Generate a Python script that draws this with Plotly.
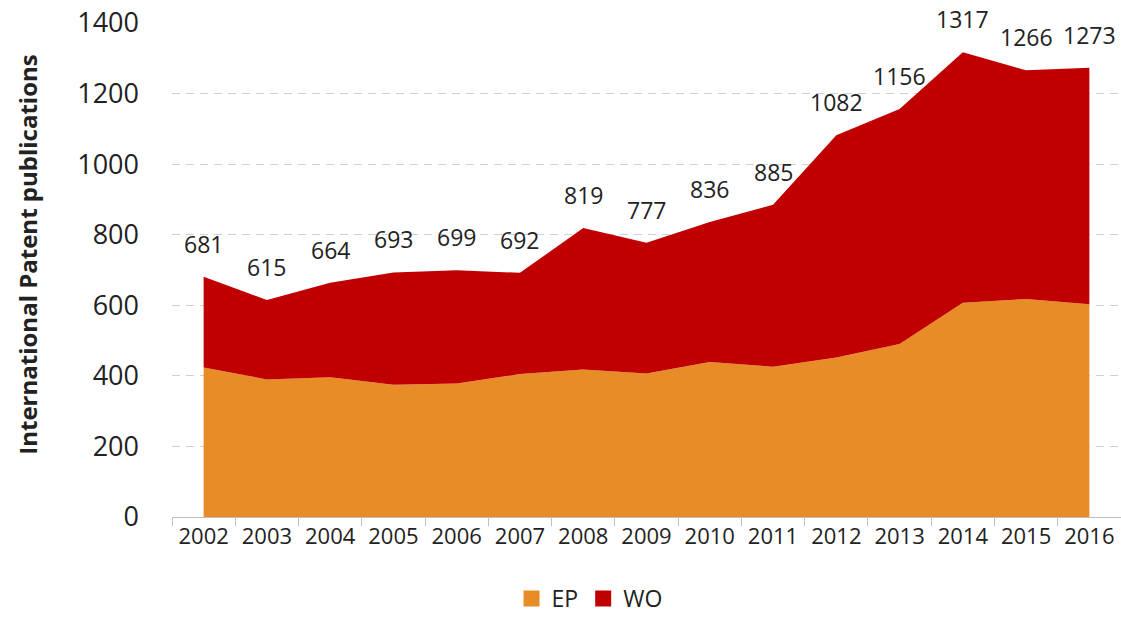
import plotly.graph_objects as go

years = ["2002","2003","2004","2005","2006","2007","2008","2009","2010","2011","2012","2013","2014","2015","2016"]
total = [681, 615, 664, 693, 699, 692, 819, 777, 836, 885, 1082, 1156, 1317, 1266, 1273]
ep = [424, 390, 396, 375, 378, 405, 418, 407, 439, 426, 452, 490, 607, 618, 603]
wo = [t - e for t, e in zip(total, ep)]

FONT = "Open Sans, sans-serif"
EP_COLOR = "#E88C27"
WO_COLOR = "#C00000"

fig = go.Figure()
fig.add_trace(go.Scatter(x=years, y=ep, name="EP", stackgroup="one", mode="none",
                         fillcolor=EP_COLOR, line=dict(width=0), showlegend=False))
fig.add_trace(go.Scatter(x=years, y=wo, name="WO", stackgroup="one", mode="none",
                         fillcolor=WO_COLOR, line=dict(width=0), showlegend=False))
# legend entries (square swatches)
fig.add_trace(go.Scatter(x=[None], y=[None], name="EP", mode="markers",
                         marker=dict(symbol="square", size=17, color=EP_COLOR)))
fig.add_trace(go.Scatter(x=[None], y=[None], name="WO", mode="markers",
                         marker=dict(symbol="square", size=17, color=WO_COLOR)))

for i, t in enumerate(total):
    fig.add_annotation(x=i, y=t, xref="x", yref="y", text=str(t), showarrow=False,
                       yshift=33, font=dict(size=23, color="#222", family=FONT))

fig.add_annotation(xref="paper", yref="paper", x=-0.1517, y=0.531, textangle=-90,
                   xanchor="center", yanchor="middle",
                   text="<b>International Patent publications</b>", showarrow=False,
                   font=dict(size=24, family=FONT, color="#222"))

fig.update_layout(
    width=1121, height=620,
    margin=dict(l=172, r=0, t=23, b=103),
    paper_bgcolor="white", plot_bgcolor="white",
    font=dict(family=FONT, color="#222"),
    showlegend=True,
    legend=dict(orientation="h", x=0.44, xanchor="center", y=-0.2085, yanchor="bottom",
                font=dict(size=23, family=FONT, color="#222"), itemwidth=30,
                traceorder="normal"),
    xaxis=dict(type="category", range=[-0.5, 14.5], tickson="boundaries",
               ticks="outside", ticklen=8, tickcolor="#bfbfbf", showline=True,
               linecolor="#bfbfbf", linewidth=1, showgrid=False,
               tickfont=dict(size=22, family=FONT, color="#222")),
    yaxis=dict(range=[0, 1400], dtick=200, showgrid=True, gridcolor="#d0d0d0",
               griddash="8px,6px", gridwidth=1, zeroline=False, showline=False,
               ticklabelstandoff=32, ticklabeloverflow="allow",
               tickfont=dict(size=27, family=FONT, color="#222")),
)

fig.write_html("out.html", config={"displayModeBar": False},
               post_script="document.body.style.margin='0';document.body.style.overflow='hidden';")
